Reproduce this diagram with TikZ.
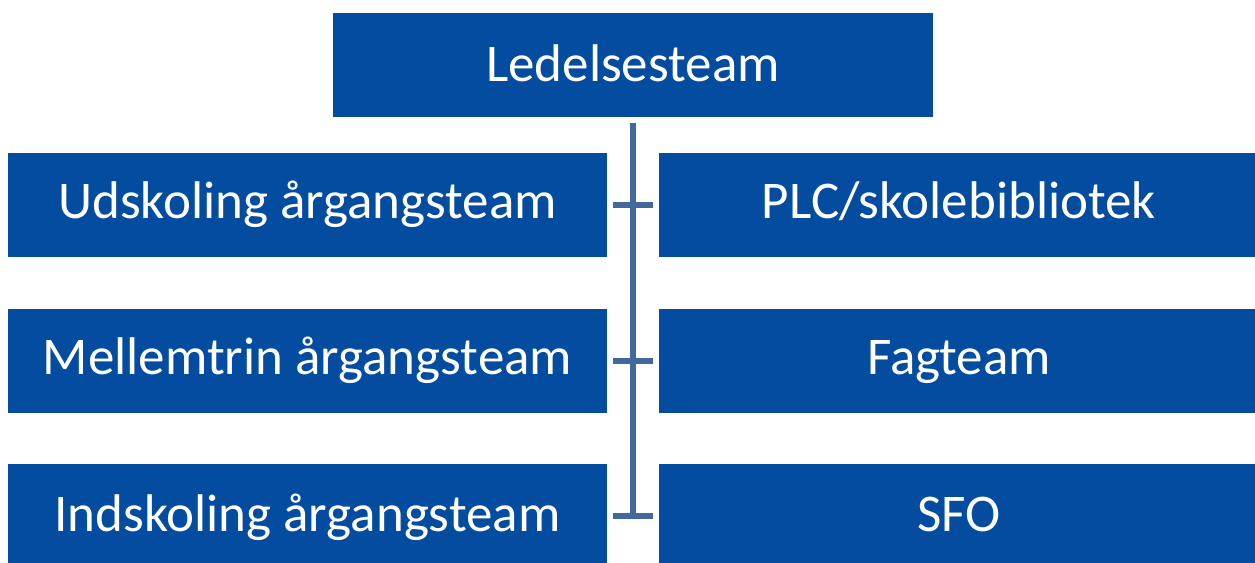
\documentclass[tikz,border=0pt]{standalone}
\usepackage{fontspec}
\setmainfont{Carlito}
\definecolor{boxblue}{RGB}{3,76,160}
\definecolor{linkblue}{RGB}{65,105,155}
\begin{document}
\begin{tikzpicture}[x=1pt,y=-1pt,
  orgbox/.style={fill=boxblue,text=white,inner sep=0pt,minimum height=104pt,
    text height=#1,text depth=3pt,font=\fontsize{53}{60}\selectfont},
  orgbox/.default=32pt,
  link/.style={draw=linkblue,line width=6pt}]
\useasboundingbox (0,0) rectangle (1255,562);
\node[orgbox=35pt,minimum width=600pt] (top) at (633,65) {Ledelsesteam};
\node[orgbox=30pt,minimum width=599pt] (l1) at (307.5,205) {Udskoling årgangsteam};
\node[orgbox=30pt,minimum width=599pt] (l2) at (307.5,360.5) {Mellemtrin årgangsteam};
\node[orgbox=33pt,minimum width=599pt] (l3) at (307.5,516) {Indskoling årgangsteam};
\node[orgbox=30pt,minimum width=600pt] (r1) at (959,205) {PLC/skolebibliotek};
\node[orgbox=30pt,minimum width=600pt] (r2) at (959,360.5) {Fagteam};
\node[orgbox=33pt,minimum width=600pt] (r3) at (959,516) {SFO};
\coordinate (vt) at (633,123);
\coordinate (vb) at (633,519);
\draw[link] (vt) -- (vb);
\draw[link] ([xshift=6pt]l1.east) -- ([xshift=-6pt]r1.west);
\draw[link] ([xshift=6pt]l2.east) -- ([xshift=-6pt]r2.west);
\draw[link] ([xshift=6pt]l3.east) -- ([xshift=-6pt]r3.west);
\end{tikzpicture}
\end{document}
